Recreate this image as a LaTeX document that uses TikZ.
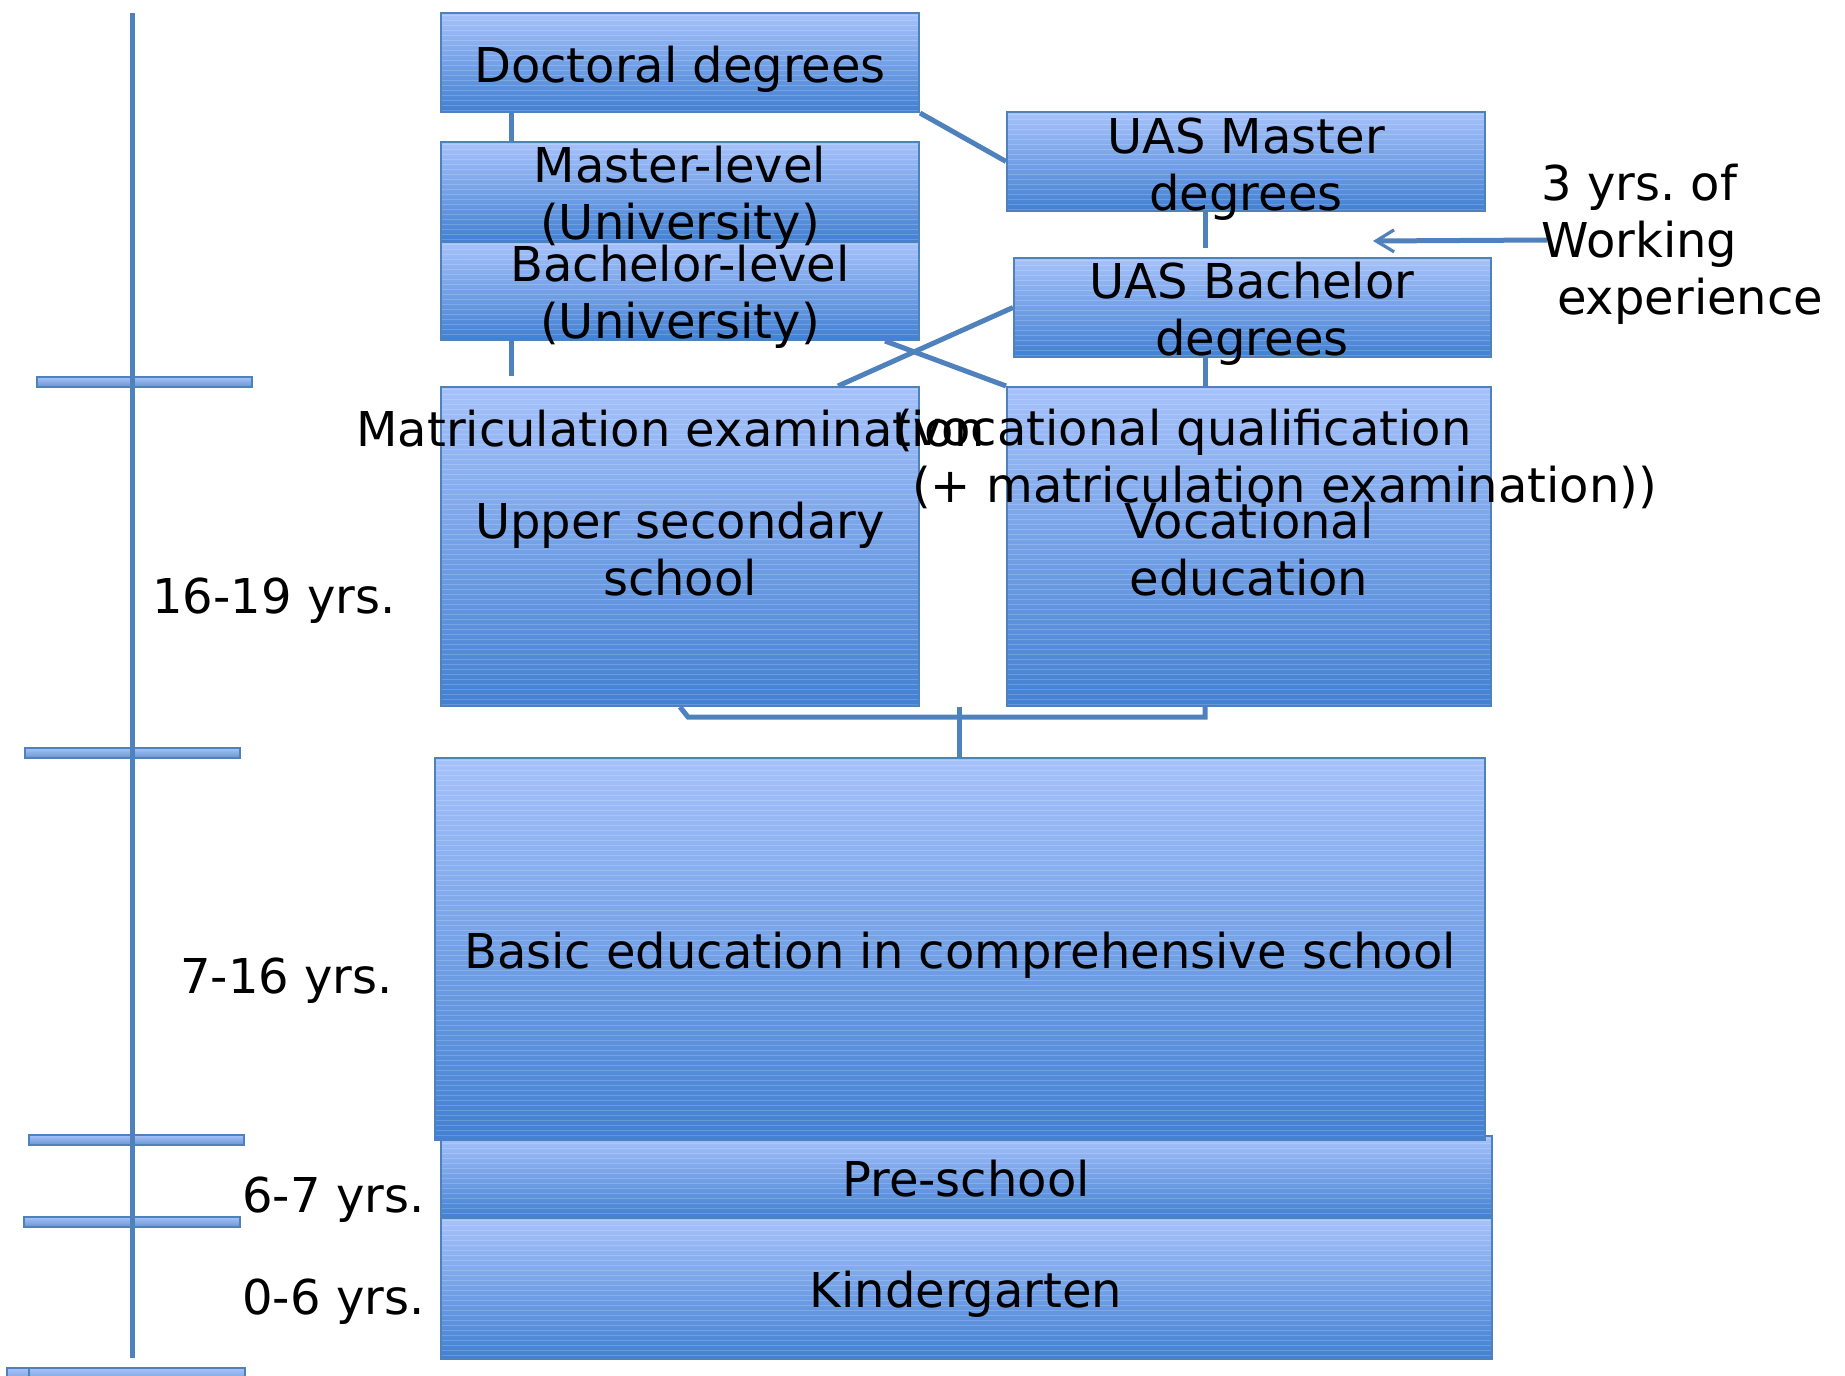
\documentclass[tikz,border=0pt]{standalone}
\usepackage{fontspec}
\setmainfont{DejaVu Sans}
\usetikzlibrary{arrows.meta,fit}
\definecolor{bord}{HTML}{4F81BD}
\definecolor{topc}{HTML}{A6C2FB}
\definecolor{botc}{HTML}{4280D2}
\frenchspacing
\begin{document}
\begin{tikzpicture}[x=0.5pt,y=-0.5pt,
  font=\fontsize{24pt}{28.3pt}\selectfont,
  stripes/.style={path picture={
    \foreach \k in {2,7,...,700}
      \draw[white, opacity=0.18, line width=0.4pt]
        ([yshift=-\k*0.5pt]path picture bounding box.north west) --
        ([yshift=-\k*0.5pt]path picture bounding box.north east);}},
  box/.style={draw=bord, line width=1pt, top color=topc, bottom color=botc, inner sep=0pt, stripes},
  conn/.style={draw=bord, line width=2.5pt},
  txt/.style={inner sep=0pt, align=center, text=black},
  tickbar/.style={draw=bord, line width=0.8pt, top color=topc, bottom color=bord!70!topc}]
\clip (0,0) rectangle (1845,1375);
\fill[white] (0,0) rectangle (1845,1375);
% time axis ticks
\path[tickbar] (37,377) rectangle (252,387);
\path[tickbar] (25,748) rectangle (240,758);
\path[tickbar] (29,1135) rectangle (244,1145);
\path[tickbar] (24,1217) rectangle (240,1227);
\path[tickbar] (7,1368) rectangle (223,1385);
\path[tickbar] (29,1368) rectangle (245,1385);
\draw[conn] (132,13) -- (132,1358);
% boxes
\node[box, fit={(441,1136) (1492,1218)}] (pre) {};
\node[box, fit={(441,1218) (1492,1359)}] (kind) {};
\node[box, fit={(435,758) (1485,1140)}] (basic) {};
\node[box, fit={(441,13) (919,112)}] (doc) {};
\node[box, fit={(441,142) (919,242)}] (mas) {};
\node[box, fit={(441,242) (919,340)}] (bac) {};
\node[box, fit={(1007,112) (1485,211)}] (uasm) {};
\node[box, fit={(1014,258) (1491,357)}] (uasb) {};
\node[box, fit={(441,387) (919,706)}] (upsec) {};
\node[box, fit={(1007,387) (1491,706)}] (voc) {};
% connectors
\coordinate (xl) at (511,0);
\coordinate (xr) at (1205,0);
\coordinate (xm) at (959,0);
\coordinate (xc) at (838,0);
\coordinate (xd) at (885,0);
\coordinate (bl) at (688,717);
\coordinate (br) at (1205,717);
\coordinate (wst) at (1547,240);
\coordinate (wtip) at (1373,241);
\draw[conn] (doc.south -| xl) -- (mas.north -| xl);
\draw[conn, shorten >=5pt] (bac.south -| xl) -- (upsec.north -| xl);
\draw[conn] (doc.south east) -- (uasm.west);
\draw[conn, shorten >=4.5pt] (uasm.south -| xr) -- (uasb.north -| xr);
\draw[conn] (uasb.south -| xr) -- (voc.north -| xr);
\draw[conn] (uasb.west) -- (upsec.north -| xc);
\draw[conn] (bac.south -| xd) -- (voc.north west);
\draw[conn] (upsec.south) -- (bl) -- (br) -- (voc.south -| xr);
\draw[conn] (upsec.south -| xm) -- (basic.north -| xm);
\draw[conn, -{Straight Barb[length=9pt,width=11pt,line width=1.6pt]}] (wst) -- (wtip);
% texts
\node[txt, anchor=base] (tdoc) at (680,83) {Doctoral degrees};
\node[txt] (tmas) at (680,198) {Master-level\\(University)};
\node[txt] (tbac) at (680,297) {Bachelor-level\\(University)};
\node[txt] (tuasm) at (1246,169) {UAS Master\\degrees};
\node[txt] (tuasb) at (1252,314) {UAS Bachelor\\degrees};
\node[txt, anchor=base west] (tmat) at (356,446) {Matriculation examination};
\node[txt, align=left, anchor=west] (tvq) at (894,459) {(vocational qualification\\\hspace*{0.37em}(+ matriculation examination))};
\node[txt] (tups) at (680,549) {Upper secondary\\school};
\node[txt] (tvoc) at (1249,549) {Vocational\\education};
\node[txt, anchor=base] (tbas) at (960,968) {Basic education in comprehensive school};
\node[txt, anchor=base] (tpre) at (966,1196) {Pre-school};
\node[txt, anchor=base] (tkin) at (966,1307) {Kindergarten};
\node[txt, align=left, anchor=west, font=\fontsize{24pt}{28.5pt}\selectfont] (twork) at (1541,244) {3 yrs. of\\Working\\\hspace*{0.33em}experience};
\node[txt, anchor=base west] (a1) at (152,613) {16-19 yrs.};
\node[txt, anchor=base west] (a2) at (180,993) {7-16 yrs.};
\node[txt, anchor=base west] (a3) at (242,1212) {6-7 yrs.};
\node[txt, anchor=base west] (a4) at (242,1314) {0-6 yrs.};
\end{tikzpicture}
\end{document}
